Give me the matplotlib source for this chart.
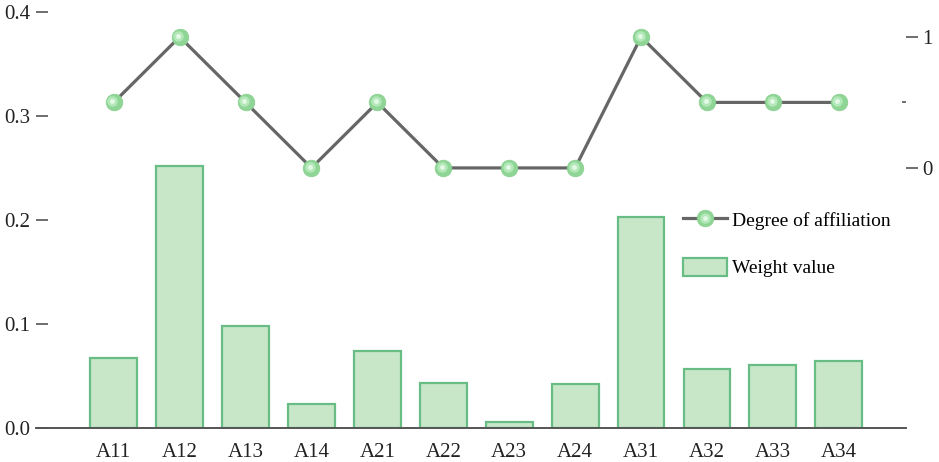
import numpy as np
import matplotlib
matplotlib.use("Agg")
import matplotlib.pyplot as plt
from matplotlib.transforms import ScaledTranslation
from matplotlib.ticker import FixedLocator
from matplotlib.legend_handler import HandlerTuple

# data
indicators = ['A11', 'A12', 'A13', 'A14', 'A21', 'A22', 'A23', 'A24',
              'A31', 'A32', 'A33', 'A34']
weights = [0.067, 0.252, 0.098, 0.023, 0.074, 0.043, 0.006, 0.042,
           0.203, 0.057, 0.061, 0.064]
affiliation = [0.5, 1, 0.5, 0, 0.5, 0, 0, 0, 1, 0.5, 0.5, 0.5]

plt.rcParams['font.family'] = ['Liberation Serif', 'DejaVu Serif']

fig = plt.figure(figsize=(9.39, 4.62), dpi=100)
ax = fig.add_axes([0.0383, 0.0736, 0.9266, 0.9004])
x = np.arange(len(indicators))

bars = ax.bar(x, weights, width=0.71, color='#c8e7c9', edgecolor='#68bd84',
              linewidth=1.6, label='Weight value', zorder=2)
ax.set_xlim(-1.18, 12.02)
ax.set_ylim(0, 0.4)
ax.set_xticks(x)
ax.set_xticklabels(indicators)
ax.set_yticks([0.0, 0.1, 0.2, 0.3, 0.4])
ax.set_yticklabels(['0.0', '0.1', '0.2', '0.3', '0.4'])
for s in ['top', 'right', 'left']:
    ax.spines[s].set_visible(False)
ax.spines['bottom'].set_color('#555555')
ax.spines['bottom'].set_linewidth(1.4)
ax.tick_params(axis='y', direction='in', length=8.6, width=1.2, color='#555555',
               labelsize=15, pad=4, labelcolor='#222222')
ax.tick_params(axis='x', length=0, labelsize=15, pad=11, labelcolor='#222222')

# right axis for degree of affiliation
ax2 = ax.twinx()
ax2.set_ylim(-1.985, 1.19)
ax2.set_yticks([0, 1])
ax2.set_yticklabels(['0', '1'])
ax2.yaxis.set_minor_locator(FixedLocator([0.5]))
for s in ['top', 'right', 'left', 'bottom']:
    ax2.spines[s].set_visible(False)
ax2.tick_params(axis='y', which='major', direction='out', length=8.6, width=1.2,
                color='#555555', labelsize=15, pad=3, labelcolor='#222222')
ax2.tick_params(axis='y', which='minor', direction='in', length=3, width=1.2,
                color='#555555')

line, = ax2.plot(x, affiliation, color='#666666', lw=2.3, marker='o', ms=12,
                 markerfacecolor='#8fd596', markeredgecolor='#88cf8f',
                 markeredgewidth=0.5, label='Degree of affiliation', zorder=3)
# soft highlight layers so the markers look like little spheres
shift = ScaledTranslation(-1.0 / 72, 1.0 / 72, fig.dpi_scale_trans)
glow, = ax2.plot(x, affiliation, linestyle='none', marker='o', ms=7.5,
                 markerfacecolor='#b3e8b8', markeredgecolor='none',
                 transform=ax2.transData + shift, zorder=4)
shine, = ax2.plot(x, affiliation, linestyle='none', marker='o', ms=3.5,
                  markerfacecolor='#e4f8e6', markeredgecolor='none',
                  transform=ax2.transData + shift, zorder=5)

ax.legend([(line, glow, shine), bars], ['Degree of affiliation', 'Weight value'],
          handler_map={tuple: HandlerTuple(ndivide=1)},
          loc='upper left', bbox_to_anchor=(0.744, 0.525), frameon=False,
          fontsize=14, labelspacing=1.44, handlelength=2.27, handleheight=1.1,
          handletextpad=0.26, borderaxespad=0, borderpad=0)

fig.savefig('out.png', dpi=100)
